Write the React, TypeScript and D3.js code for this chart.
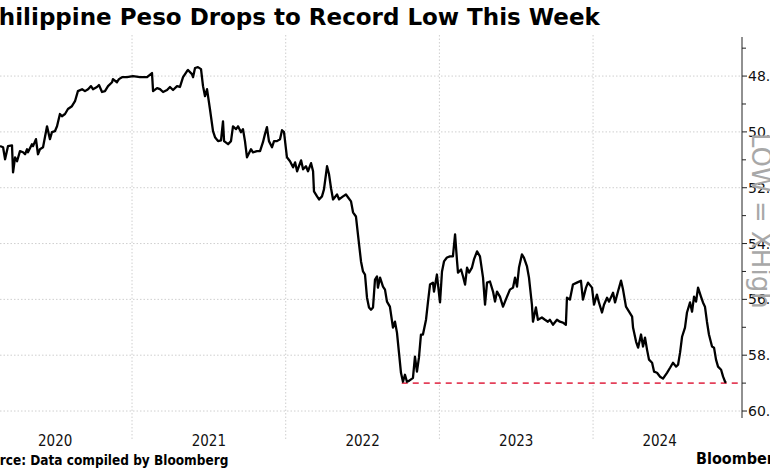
import * as d3 from "d3";

const TITLE = "Philippine Peso Drops to Record Low This Week";
const SOURCE = "Source: Data compiled by Bloomberg";
const BRAND = "Bloomberg";
const SIDE_NOTE = "LOW = XHigh";

const YEARS = [2020, 2021, 2022, 2023, 2024];
const Y_TICKS = [48, 50, 52, 54, 56, 58, 60];
const Y_MINOR = [47, 49, 51, 53, 55, 57, 59];
const Y_LABELS = ["48.00", "50.00", "52.00", "54.00", "56.00", "58.00", "60.00"];

const RECORD_LOW = 59.0;
const RECORD_LOW_FROM = 2022.755;

// decimal year of each observation
const DATES = [
  2020.141, 2020.161, 2020.174, 2020.193, 2020.219, 2020.226, 2020.239, 2020.252, 2020.271, 2020.291,
  2020.304, 2020.317, 2020.323, 2020.349, 2020.356, 2020.375, 2020.388, 2020.401, 2020.421, 2020.447,
  2020.466, 2020.479, 2020.499, 2020.512, 2020.531, 2020.544, 2020.564, 2020.583, 2020.609, 2020.629,
  2020.648, 2020.675, 2020.694, 2020.714, 2020.733, 2020.746, 2020.772, 2020.785, 2020.805, 2020.824,
  2020.844, 2020.870, 2020.876, 2020.902, 2020.915, 2020.935, 2020.967, 2021.006, 2021.052, 2021.098,
  2021.130, 2021.137, 2021.163, 2021.182, 2021.202, 2021.228, 2021.247, 2021.267, 2021.293, 2021.312,
  2021.332, 2021.358, 2021.364, 2021.390, 2021.397, 2021.410, 2021.429, 2021.449, 2021.462, 2021.475,
  2021.488, 2021.507, 2021.527, 2021.540, 2021.560, 2021.579, 2021.592, 2021.599, 2021.625, 2021.644,
  2021.657, 2021.677, 2021.690, 2021.709, 2021.722, 2021.735, 2021.748, 2021.774, 2021.787, 2021.813,
  2021.833, 2021.852, 2021.865, 2021.878, 2021.891, 2021.911, 2021.924, 2021.943, 2021.963, 2021.976,
  2021.989, 2022.008, 2022.028, 2022.048, 2022.061, 2022.074, 2022.100, 2022.113, 2022.132, 2022.145,
  2022.165, 2022.178, 2022.184, 2022.204, 2022.217, 2022.236, 2022.249, 2022.269, 2022.282, 2022.295,
  2022.308, 2022.334, 2022.347, 2022.373, 2022.392, 2022.405, 2022.425, 2022.438, 2022.457, 2022.470,
  2022.490, 2022.503, 2022.516, 2022.529, 2022.542, 2022.555, 2022.568, 2022.581, 2022.594, 2022.600,
  2022.614, 2022.633, 2022.646, 2022.659, 2022.678, 2022.698, 2022.711, 2022.724, 2022.737, 2022.750,
  2022.763, 2022.776, 2022.789, 2022.802, 2022.822, 2022.828, 2022.841, 2022.854, 2022.867, 2022.880,
  2022.893, 2022.913, 2022.926, 2022.939, 2022.958, 2022.965, 2022.984, 2022.991, 2023.004, 2023.017,
  2023.030, 2023.049, 2023.069, 2023.088, 2023.102, 2023.115, 2023.121, 2023.141, 2023.154, 2023.167,
  2023.180, 2023.193, 2023.212, 2023.225, 2023.245, 2023.264, 2023.284, 2023.297, 2023.310, 2023.329,
  2023.349, 2023.362, 2023.375, 2023.394, 2023.414, 2023.427, 2023.440, 2023.459, 2023.479, 2023.492,
  2023.505, 2023.518, 2023.537, 2023.550, 2023.570, 2023.583, 2023.602, 2023.609, 2023.628, 2023.641,
  2023.667, 2023.687, 2023.706, 2023.719, 2023.739, 2023.765, 2023.784, 2023.804, 2023.823, 2023.830,
  2023.849, 2023.869, 2023.895, 2023.921, 2023.934, 2023.954, 2023.967, 2023.993, 2024.006, 2024.025,
  2024.038, 2024.058, 2024.071, 2024.091, 2024.104, 2024.130, 2024.143, 2024.162, 2024.182, 2024.195,
  2024.214, 2024.234, 2024.254, 2024.260, 2024.280, 2024.293, 2024.312, 2024.325, 2024.338, 2024.351,
  2024.364, 2024.384, 2024.397, 2024.416, 2024.436, 2024.455, 2024.481, 2024.501, 2024.520, 2024.540,
  2024.553, 2024.566, 2024.579, 2024.598, 2024.611, 2024.631, 2024.644, 2024.657, 2024.670, 2024.683,
  2024.702, 2024.715, 2024.728, 2024.741, 2024.754, 2024.774, 2024.787, 2024.800, 2024.813, 2024.833,
  2024.846, 2024.859, 2024.865
];

// pesos per US dollar
const USDPHP = [
  50.51, 50.55, 50.98, 50.51, 50.48, 51.45, 50.91, 51.05, 50.69, 50.73,
  50.80, 50.62, 50.73, 50.44, 50.51, 50.26, 50.80, 50.62, 50.55, 49.80,
  50.26, 50.01, 49.97, 49.80, 49.36, 49.44, 49.36, 49.18, 49.08, 48.90,
  48.54, 48.47, 48.54, 48.47, 48.36, 48.47, 48.39, 48.32, 48.57, 48.54,
  48.36, 48.22, 48.11, 48.22, 48.11, 48.04, 48.04, 48.00, 48.04, 48.04,
  47.89, 48.54, 48.43, 48.47, 48.57, 48.50, 48.39, 48.50, 48.36, 48.39,
  48.04, 47.82, 47.78, 47.93, 48.04, 47.71, 47.68, 47.75, 48.36, 48.72,
  48.47, 49.18, 49.97, 50.19, 50.33, 50.30, 49.62, 50.33, 50.44, 50.33,
  49.80, 49.90, 49.80, 50.01, 49.90, 50.33, 50.91, 50.62, 50.73, 50.69,
  50.69, 50.37, 50.08, 49.83, 50.33, 50.55, 50.33, 50.33, 50.26, 49.94,
  50.01, 50.91, 51.05, 51.27, 51.09, 51.41, 51.02, 51.34, 51.23, 51.41,
  51.12, 51.41, 52.13, 52.31, 52.42, 52.31, 52.06, 51.23, 51.52, 52.02,
  52.42, 52.24, 52.42, 52.31, 52.24, 52.34, 52.49, 52.88, 53.03, 53.67,
  54.64, 55.00, 55.11, 55.94, 56.29, 56.37, 56.29, 55.29, 55.18, 55.58,
  55.22, 55.54, 55.65, 56.08, 56.26, 57.01, 56.80, 57.19, 57.91, 58.63,
  58.95, 58.70, 58.95, 58.92, 58.84, 58.81, 58.05, 58.59, 58.09, 57.26,
  57.26, 56.73, 56.08, 55.47, 55.40, 55.72, 55.11, 55.47, 56.11, 55.00,
  54.64, 54.50, 54.46, 54.46, 53.67, 54.64, 55.04, 54.93, 55.18, 55.47,
  54.86, 55.04, 54.86, 54.57, 54.28, 54.46, 55.22, 56.19, 55.40, 55.36,
  55.72, 56.08, 55.72, 55.90, 56.26, 56.08, 55.90, 55.65, 55.58, 55.22,
  55.54, 54.86, 54.39, 54.50, 54.82, 55.22, 56.19, 56.80, 56.29, 56.73,
  56.65, 56.73, 56.80, 56.73, 56.91, 56.73, 56.80, 56.83, 56.91, 55.94,
  56.01, 55.47, 55.40, 55.33, 56.01, 55.58, 55.40, 55.58, 56.19, 55.83,
  56.11, 56.47, 56.19, 55.94, 56.08, 55.76, 56.11, 55.72, 55.33, 55.65,
  56.26, 56.44, 56.62, 57.01, 57.52, 57.73, 57.26, 57.69, 57.37, 57.80,
  58.16, 58.27, 58.59, 58.63, 58.77, 58.84, 58.63, 58.45, 58.27, 58.41,
  58.34, 57.91, 57.34, 57.01, 56.47, 56.11, 56.44, 55.90, 56.08, 55.58,
  55.90, 56.11, 56.26, 56.80, 57.26, 57.69, 57.73, 58.16, 58.41, 58.52,
  58.77, 58.95, 58.99
];

const WIDTH = 770;
const HEIGHT = 470;
const PLOT = {left: 0, right: 742, top: 37, bottom: 418};

const GRID = "#cfcfcf";
const LINE = "#000000";
const RED = "#e4405a";
const CONDENSED = "'DejaVu Sans Condensed', 'DejaVu Sans', sans-serif";
const SANS = "'DejaVu Sans', Verdana, sans-serif";

type Point = {t: number; v: number};

export default function App() {
  const points: Point[] = DATES.map((t, i) => ({t, v: USDPHP[i]}));
  const lastDate = DATES[DATES.length - 1];

  const x = d3.scaleLinear().domain([2020.141, 2024.969]).range([PLOT.left, PLOT.right]);
  // inverted: weaker peso sits lower
  const y = d3.scaleLinear().domain([46.6, 60.25]).range([PLOT.top, PLOT.bottom]);

  const path = d3
    .line<Point>()
    .x((d) => x(d.t))
    .y((d) => y(d.v))(points);

  const yearBoundaries = YEARS.slice(1);

  return (
    <svg
      width={WIDTH}
      height={HEIGHT}
      viewBox={`0 0 ${WIDTH} ${HEIGHT}`}
      style={{position: "absolute", left: 0, top: 0, background: "#fff"}}
    >
      <rect width={WIDTH} height={HEIGHT} fill="#fff" />

      <text x={-18} y={25} fontFamily={SANS} fontWeight="bold" fontSize={23} fill="#000">
        {TITLE}
      </text>

      {Y_TICKS.map((tick) => (
        <line
          key={`g-${tick}`}
          x1={PLOT.left}
          x2={PLOT.right}
          y1={y(tick)}
          y2={y(tick)}
          stroke={GRID}
          strokeWidth={1}
          strokeDasharray="1.5,2"
        />
      ))}

      {yearBoundaries.map((year) => (
        <line
          key={`v-${year}`}
          x1={x(year)}
          x2={x(year)}
          y1={35}
          y2={440}
          stroke={GRID}
          strokeWidth={1}
          strokeDasharray="1.5,2"
        />
      ))}

      <line
        x1={x(RECORD_LOW_FROM)}
        x2={PLOT.right}
        y1={y(RECORD_LOW)}
        y2={y(RECORD_LOW)}
        stroke={RED}
        strokeWidth={1.6}
        strokeDasharray="6,5"
      />

      <path d={path ?? ""} fill="none" stroke={LINE} strokeWidth={2.3} strokeLinejoin="round" />

      <line x1={PLOT.right} x2={PLOT.right} y1={PLOT.top} y2={PLOT.bottom} stroke="#222" strokeWidth={1} />
      {Y_TICKS.map((tick, i) => (
        <g key={`t-${tick}`} transform={`translate(${PLOT.right},${y(tick)})`}>
          <line x1={0} x2={5} stroke="#222" />
          <text x={6} y={5} fontFamily={SANS} fontSize={14} fill="#111">
            {Y_LABELS[i]}
          </text>
        </g>
      ))}
      {Y_MINOR.map((tick) => (
        <line
          key={`m-${tick}`}
          x1={PLOT.right}
          x2={PLOT.right + 4}
          y1={y(tick)}
          y2={y(tick)}
          stroke="#222"
        />
      ))}

      <text
        transform={`translate(752,133) rotate(90)`}
        fontFamily={SANS}
        fontSize={26}
        fill="#a8a8a8"
      >
        {SIDE_NOTE}
      </text>

      {YEARS.map((year) => {
        const end = Math.min(year + 1, lastDate);
        return (
          <text
            key={`y-${year}`}
            x={x((year + end) / 2)}
            y={446}
            textAnchor="middle"
            fontFamily={CONDENSED}
            fontSize={15}
            fill="#111"
          >
            {year}
          </text>
        );
      })}

      <text x={-26} y={465} fontFamily={CONDENSED} fontWeight="bold" fontSize={13.5} fill="#000">
        {SOURCE}
      </text>
      <text x={696} y={464} fontFamily={CONDENSED} fontWeight="bold" fontSize={16} fill="#000">
        {BRAND}
      </text>
    </svg>
  );
}
